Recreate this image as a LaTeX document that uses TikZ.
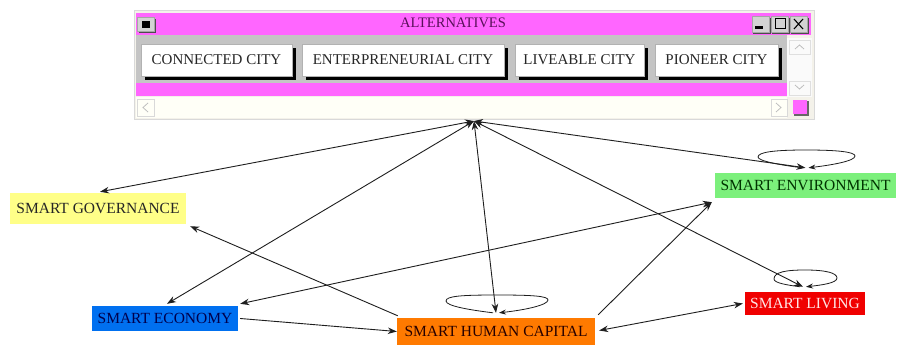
\documentclass[tikz,border=0pt]{standalone}
\usepackage{fontspec}
\setmainfont{Liberation Serif}
\usetikzlibrary{arrows.meta,shadows}
\definecolor{mag}{HTML}{FF66FF}
\definecolor{winbg}{HTML}{F4F2EA}
\definecolor{panelgray}{HTML}{C4C4C4}
\definecolor{titletxt}{HTML}{5A105A}
\definecolor{linec}{HTML}{1E1E1E}
\definecolor{govfill}{HTML}{FFFF88}
\definecolor{ecofill}{HTML}{0070F0}
\definecolor{hcfill}{HTML}{FF7A00}
\definecolor{envfill}{HTML}{7CF07C}
\definecolor{livfill}{HTML}{F00000}
\definecolor{scrollgray}{HTML}{C8C8C8}
\begin{document}
\begin{tikzpicture}[x=1pt,y=-1pt,
  crit/.style={rectangle, inner sep=0pt, font=\fontsize{15.5}{18}\selectfont},
  altbtn/.style={rectangle, inner sep=0pt, fill=white, draw=gray!60, line width=0.6pt,
    font=\fontsize{15}{18}\selectfont, text=black!85, minimum height=32pt,
    drop shadow={shadow xshift=4pt, shadow yshift=-4pt, fill=black, opacity=1}},
  ctrlbox/.style={fill=scrollgray!80, draw=gray!70, line width=0.4pt},
  link/.style={draw=linec, line width=0.9pt, -{Stealth[length=9pt,width=6.5pt]}},
  dlink/.style={draw=linec, line width=0.9pt, {Stealth[length=9pt,width=6.5pt]}-{Stealth[length=9pt,width=6.5pt]}},
  loopline/.style={draw=linec, line width=0.8pt, -{Stealth[length=7pt,width=5pt]}},
  chev/.style={draw=gray!50, line width=0.8pt}
]
\useasboundingbox[fill=white] (0,0) rectangle (898,345);

% ---------- window ----------
\fill[winbg] (134,10) rectangle (814,119);
\draw[gray!30, line width=0.5pt] (134,10) rectangle (814,119);
\fill[mag] (136,13) rectangle (811,35);
\fill[panelgray] (136,35) rectangle (787,83);
\fill[mag] (136,83) rectangle (787,96);

% title bar controls
\fill[black!70] (139,19) rectangle (156,33);
\fill[ctrlbox] (137,17) rectangle (154,31);
\fill[black] (142,21) rectangle (150,28);
\foreach \xl in {752,771,790}{
  \fill[black!70] (\xl+1,18) rectangle (\xl+19,34);
  \fill[ctrlbox] (\xl,16) rectangle (\xl+17,32);
}
\fill[black] (755,26) rectangle (763,29);
\draw[black, line width=1pt] (775,19) rectangle (785,29);
\draw[black, line width=1.1pt] (794,19) -- (803,29) (803,19) -- (794,29);

\node[font=\fontsize{14.5}{16}\selectfont, text=titletxt] (title) at (453,23) {ALTERNATIVES};

% buttons
\node[altbtn, minimum width=151pt] (b1) at (216.5,60) {CONNECTED CITY};
\node[altbtn, minimum width=202pt] (b2) at (403,60) {ENTERPRENEURIAL CITY};
\node[altbtn, minimum width=129pt] (b3) at (579.5,60) {LIVEABLE CITY};
\node[altbtn, minimum width=123pt] (b4) at (716.5,60) {PIONEER CITY};

% right scrollbar
\fill[white!96!gray] (787,38) rectangle (812,97);
\draw[gray!25] (789,40) rectangle (810,54);
\draw[chev] (795,49) -- (799.5,45) -- (804,49);
\draw[gray!25] (789,81) rectangle (810,95);
\draw[chev] (795,85) -- (799.5,89) -- (804,85);

% bottom scrollbar
\fill[white!97!yellow] (136,97) rectangle (787,118);
\draw[gray!30] (137,99) rectangle (154,116);
\draw[chev] (148,103) -- (143,107.5) -- (148,112);
\draw[gray!30] (771,99) rectangle (787,116);
\draw[chev] (776,103) -- (781,107.5) -- (776,112);
\fill[black!60] (794,101) rectangle (809,116);
\fill[mag] (793,100) rectangle (807,114);

% ---------- criteria ----------
\coordinate (hub) at (474,121);
\node[crit, fill=govfill, text=black!85, minimum width=176pt, minimum height=31pt] (gov) at (98,208.5) {SMART GOVERNANCE};
\node[crit, fill=ecofill, text=blue!30!black, minimum width=146pt, minimum height=25pt] (eco) at (165,318.5) {SMART ECONOMY};
\node[crit, fill=hcfill, text=black!70!red!50!black, minimum width=198pt, minimum height=27pt] (hc) at (496,331.5) {SMART HUMAN CAPITAL};
\node[crit, fill=envfill, text=green!20!black, minimum width=181pt, minimum height=25pt] (env) at (805.5,185.5) {SMART ENVIRONMENT};
\node[crit, fill=livfill, text=white!90!red, minimum width=120pt, minimum height=23pt] (liv) at (805,303.5) {SMART LIVING};

\coordinate (hcT) at ([yshift=5pt]hc.north);
\coordinate (envT) at ([yshift=5pt]env.north);
\coordinate (livT) at ([yshift=5pt,xshift=-2pt]liv.north);

% self loops
\draw[loopline] ([xshift=-3pt]hcT) .. controls (470,310) and (446,306) .. (446,301)
  .. controls (446,296) and (462,295) .. (497,295) .. controls (532,295) and (548,296) .. (548,300)
  .. controls (548,305) and (525,310) .. ([xshift=3pt]hcT);
\draw[loopline] ([xshift=-3pt]envT) .. controls (780,165) and (758,161) .. (758,157)
  .. controls (758,152) and (775,150) .. (806,150) .. controls (838,150) and (855,152) .. (855,156)
  .. controls (855,161) and (832,165) .. ([xshift=3pt]envT);
\draw[loopline] ([xshift=-3pt]livT) .. controls (787,285) and (774,283) .. (774,279)
  .. controls (774,272) and (786,270) .. (805,270) .. controls (826,270) and (837,273) .. (837,278)
  .. controls (837,283) and (822,285) .. ([xshift=3pt]livT);

% links with the alternatives
\draw[dlink] (hub) -- ([xshift=2pt,yshift=1pt]gov.north);
\draw[dlink] (hub) -- ([xshift=2pt,yshift=2pt]eco.north);
\draw[dlink] (hub) -- (hcT);
\draw[dlink] (hub) -- (envT);
\draw[dlink] (hub) -- (livT);

% links between criteria
\draw[link] ([xshift=1pt,yshift=2pt]hc.north west) -- ([xshift=4pt,yshift=-2pt]gov.south east);
\draw[link] ([xshift=2pt]eco.east) -- (hc.west);
\draw[dlink] ([xshift=2pt,yshift=2pt]eco.north east) -- ([xshift=-3pt,yshift=-4pt]env.south west);
\draw[link] ([xshift=3pt,yshift=3pt]hc.north east) -- ([xshift=-3pt,yshift=-4pt]env.south west);
\draw[dlink] ([xshift=4pt,yshift=1pt]hc.east) -- ([xshift=-2pt]liv.west);
\end{tikzpicture}
\end{document}
